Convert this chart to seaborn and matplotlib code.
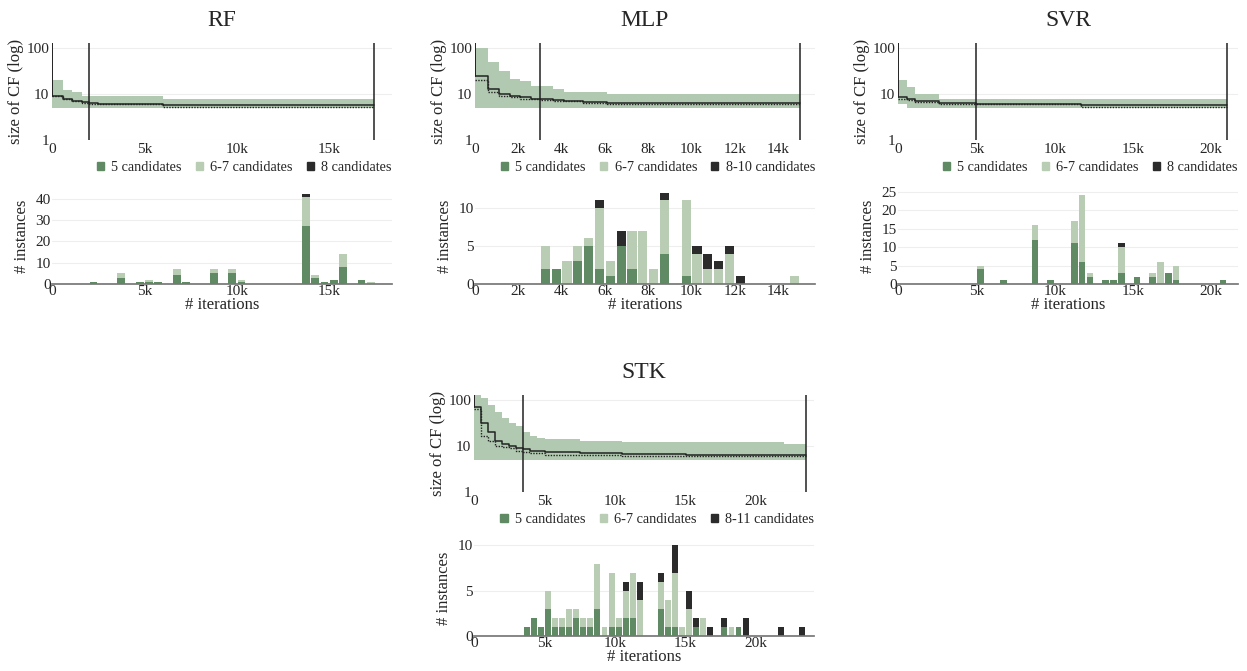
import numpy as np
import matplotlib
matplotlib.use("Agg")
import matplotlib.pyplot as plt
import seaborn as sns
from matplotlib.patches import Patch
from matplotlib.ticker import FuncFormatter, FixedLocator

# ---------------- data (iterations in thousands) ----------------
# RF
rf_step_x = [0, 0.6, 1.1, 1.6, 2.0, 2.5, 6.0, 17.4]
rf_upper = [20, 12, 11, 9, 9, 9, 8, 8]
rf_lower = [5, 5, 5, 5, 5, 5, 5, 5]
rf_mean = [9, 8, 7, 6.8, 6.3, 6.0, 5.7, 5.7]
rf_median = [9, 8, 7, 6.5, 6.0, 6.0, 5.2, 5.2]
rf_vlines = [2.0, 17.4]
rf_bin = [2.25, 3.75, 4.75, 5.25, 5.75, 6.75, 7.25, 8.75, 9.75, 10.25, 13.75, 14.25, 14.75, 15.25, 15.75, 16.75, 17.25]
rf_c5 = [1, 3, 1, 1, 1, 4, 1, 5, 5, 1, 27, 3, 1, 2, 8, 2, 0]
rf_c67 = [0, 2, 0, 1, 0, 3, 0, 2, 2, 1, 14, 1, 0, 0, 6, 0, 1]
rf_c8 = [0, 0, 0, 0, 0, 0, 0, 0, 0, 0, 1, 0, 0, 0, 0, 0, 0]

# MLP
mlp_step_x = [0, 0.6, 1.1, 1.6, 2.1, 2.6, 3.0, 3.6, 4.1, 5.0, 6.1, 15.0]
mlp_upper = [100, 50, 32, 21, 19, 15, 15, 13, 11, 11, 10, 10]
mlp_lower = [5] * 12
mlp_mean = [25, 13, 10, 9, 8.5, 8, 7.7, 7.4, 7.1, 6.7, 6.3, 6.3]
mlp_median = [20, 11, 9, 8.5, 8, 7.8, 7.5, 7.2, 7.0, 6.3, 6.0, 6.0]
mlp_vlines = [3.0, 15.0]
mlp_bin = [3.25, 3.75, 4.25, 4.75, 5.25, 5.75, 6.25, 6.75, 7.25, 7.75, 8.25, 8.75, 9.75, 10.25, 10.75, 11.25, 11.75, 12.25, 14.75]
mlp_c5 = [2, 2, 0, 3, 5, 2, 1, 5, 2, 0, 0, 4, 1, 0, 0, 0, 0, 0, 0]
mlp_c67 = [3, 0, 3, 2, 1, 8, 2, 0, 5, 7, 2, 7, 10, 4, 2, 2, 4, 0, 1]
mlp_c8 = [0, 0, 0, 0, 0, 1, 0, 2, 0, 0, 0, 1, 0, 1, 2, 1, 1, 1, 0]

# SVR
svr_step_x = [0, 0.6, 1.1, 2.6, 5.0, 11.7, 21.0]
svr_upper = [20, 14, 10, 8, 8, 8, 8]
svr_lower = [6, 5, 5, 5, 5, 5, 5]
svr_mean = [8.5, 8, 7, 6.4, 6.0, 5.8, 5.8]
svr_median = [8, 7.5, 6.8, 6.2, 6.0, 5.2, 5.2]
svr_vlines = [5.0, 21.0]
svr_bin = [5.25, 6.75, 8.75, 9.75, 11.25, 11.75, 12.25, 13.25, 13.75, 14.25, 15.25, 16.25, 16.75, 17.25, 17.75, 20.75]
svr_c5 = [4, 1, 12, 1, 11, 6, 2, 1, 1, 3, 2, 2, 0, 3, 1, 1]
svr_c67 = [1, 0, 4, 0, 6, 18, 1, 0, 0, 7, 0, 1, 6, 0, 4, 0]
svr_c8 = [0, 0, 0, 0, 0, 0, 0, 0, 0, 1, 0, 0, 0, 0, 0, 0]

# STK
stk_step_x = [0, 0.5, 1.0, 1.5, 2.0, 2.5, 3.0, 3.5, 4.0, 4.5, 5.0, 7.5, 10.5, 15.0, 22.0, 23.5]
stk_upper = [130, 110, 80, 55, 40, 32, 28, 20, 17, 15, 14, 13, 12, 12, 11, 11]
stk_lower = [5] * 16
stk_mean = [70, 32, 20, 13, 11, 10, 9, 8.5, 8, 8, 7.5, 7, 6.7, 6.5, 6.5, 6.5]
stk_median = [65, 17, 13, 10, 9.5, 9, 8, 7.5, 7, 7, 6.5, 6.5, 6.2, 6.2, 6.2, 6.2]
stk_vlines = [3.5, 23.5]
stk_bin = [3.75, 4.25, 4.75, 5.25, 5.75, 6.25, 6.75, 7.25, 7.75, 8.25, 8.75, 9.25, 9.75, 10.25, 10.75, 11.25, 11.75,
           13.25, 13.75, 14.25, 14.75, 15.25, 15.75, 16.25, 16.75, 17.75, 18.25, 18.75, 19.25, 21.75, 23.25]
stk_c5 = [1, 2, 1, 3, 1, 1, 1, 2, 1, 1, 3, 0, 1, 1, 2, 2, 0, 3, 1, 1, 0, 0, 1, 0, 0, 1, 0, 1, 0, 0, 0]
stk_c67 = [0, 0, 0, 2, 1, 1, 2, 1, 1, 1, 5, 1, 6, 1, 3, 5, 4, 3, 3, 6, 1, 3, 0, 2, 0, 0, 1, 0, 0, 0, 0]
stk_c8 = [0, 0, 0, 0, 0, 0, 0, 0, 0, 0, 0, 0, 0, 0, 1, 0, 2, 1, 0, 3, 0, 2, 1, 0, 1, 1, 0, 0, 2, 1, 1]

panels = [
    dict(name="RF", sx=rf_step_x, up=rf_upper, lo=rf_lower, mean=rf_mean, med=rf_median, vl=rf_vlines,
         b=rf_bin, c5=rf_c5, c67=rf_c67, c8=rf_c8, lab8="8 candidates", xmax=18.4, xt=[0, 5, 10, 15],
         yt=[0, 10, 20, 30, 40], ymax=45, px=52),
    dict(name="MLP", sx=mlp_step_x, up=mlp_upper, lo=mlp_lower, mean=mlp_mean, med=mlp_median, vl=mlp_vlines,
         b=mlp_bin, c5=mlp_c5, c67=mlp_c67, c8=mlp_c8, lab8="8-10 candidates", xmax=15.7, xt=list(range(0, 16, 2)),
         yt=[0, 5, 10], ymax=12.6, px=475),
    dict(name="SVR", sx=svr_step_x, up=svr_upper, lo=svr_lower, mean=svr_mean, med=svr_median, vl=svr_vlines,
         b=svr_bin, c5=svr_c5, c67=svr_c67, c8=svr_c8, lab8="8 candidates", xmax=21.7, xt=[0, 5, 10, 15, 20],
         yt=[0, 5, 10, 15, 20, 25], ymax=26, px=898),
    dict(name="STK", sx=stk_step_x, up=stk_upper, lo=stk_lower, mean=stk_mean, med=stk_median, vl=stk_vlines,
         b=stk_bin, c5=stk_c5, c67=stk_c67, c8=stk_c8, lab8="8-11 candidates", xmax=24.1, xt=[0, 5, 10, 15, 20],
         yt=[0, 5, 10], ymax=10.6, px=474),
]

DARK = "#5f8a64"
LIGHT = "#b8cdb3"
BLACK = "#2b2b2b"
BAND = "#b1c9b0"

sns.set_theme(style="white")
plt.rcParams["font.family"] = ["Liberation Serif", "DejaVu Serif"]

W, H = 1247, 671
fig = plt.figure(figsize=(W / 100, H / 100), dpi=100)

def kfmt(v, pos):
    return "0" if v == 0 else f"{int(round(v))}k"

for i, p in enumerate(panels):
    row_top = 43 if i < 3 else 395
    aw = 340
    top = fig.add_axes([p["px"] / W, 1 - (row_top + 97) / H, aw / W, 97 / H])
    bot = fig.add_axes([p["px"] / W, 1 - (row_top + 241) / H, aw / W, 96 / H])

    sx = list(p["sx"])
    top.fill_between(sx, p["lo"], p["up"], step="post", color=BAND, linewidth=0)
    top.step(sx, p["mean"], where="post", color="#222222", lw=1.1)
    top.step(sx, p["med"], where="post", color="#222222", lw=1.0, ls=(0, (1, 1)))
    top.plot([0, 0], [p["mean"][0], 130], color="#222222", lw=1.4)
    for v in p["vl"]:
        top.axvline(v, color="#222222", lw=1.1)
    top.set_yscale("log")
    top.set_ylim(1, 130)
    top.set_xlim(0, p["xmax"])
    top.yaxis.set_major_locator(FixedLocator([1, 10, 100]))
    top.yaxis.set_minor_locator(FixedLocator([]))
    top.set_yticklabels(["1", "10", "100"])
    top.xaxis.set_major_locator(FixedLocator(p["xt"]))
    top.xaxis.set_major_formatter(FuncFormatter(kfmt))
    top.grid(axis="y", color="#eeeeee", lw=0.8)
    top.set_axisbelow(True)
    sns.despine(ax=top, left=True, bottom=True)
    top.tick_params(length=0, labelsize=11, pad=2)
    top.set_ylabel("size of CF (log)", fontsize=12, labelpad=2)
    top.set_title(p["name"], fontsize=17, pad=12)

    handles = [Patch(color=DARK, label="5 candidates"), Patch(color=LIGHT, label="6-7 candidates"),
               Patch(color=BLACK, label=p["lab8"])]
    top.legend(handles=handles, loc="upper right", bbox_to_anchor=(1.0, -0.22), ncol=3, frameon=False,
               handlelength=0.5, handleheight=0.5, handletextpad=0.5, columnspacing=1.0, fontsize=10.3,
               borderaxespad=0, borderpad=0)

    b = np.array(p["b"])
    c5 = np.array(p["c5"])
    c67 = np.array(p["c67"])
    c8 = np.array(p["c8"])
    bot.bar(b, c5, width=0.42, color=DARK, linewidth=0)
    bot.bar(b, c67, width=0.42, bottom=c5, color=LIGHT, linewidth=0)
    bot.bar(b, c8, width=0.42, bottom=c5 + c67, color=BLACK, linewidth=0)
    bot.set_xlim(0, p["xmax"])
    bot.set_ylim(0, p["ymax"])
    bot.yaxis.set_major_locator(FixedLocator(p["yt"]))
    bot.xaxis.set_major_locator(FixedLocator(p["xt"]))
    bot.xaxis.set_major_formatter(FuncFormatter(kfmt))
    bot.grid(axis="y", color="#eeeeee", lw=0.8)
    bot.set_axisbelow(True)
    sns.despine(ax=bot, left=True)
    bot.spines["bottom"].set_color("#777777")
    bot.tick_params(length=0, labelsize=11, pad=1)
    bot.set_ylabel("# instances", fontsize=12, labelpad=4)
    bot.set_xlabel("# iterations", fontsize=12, labelpad=-1)

fig.savefig("out.png", dpi=100)
